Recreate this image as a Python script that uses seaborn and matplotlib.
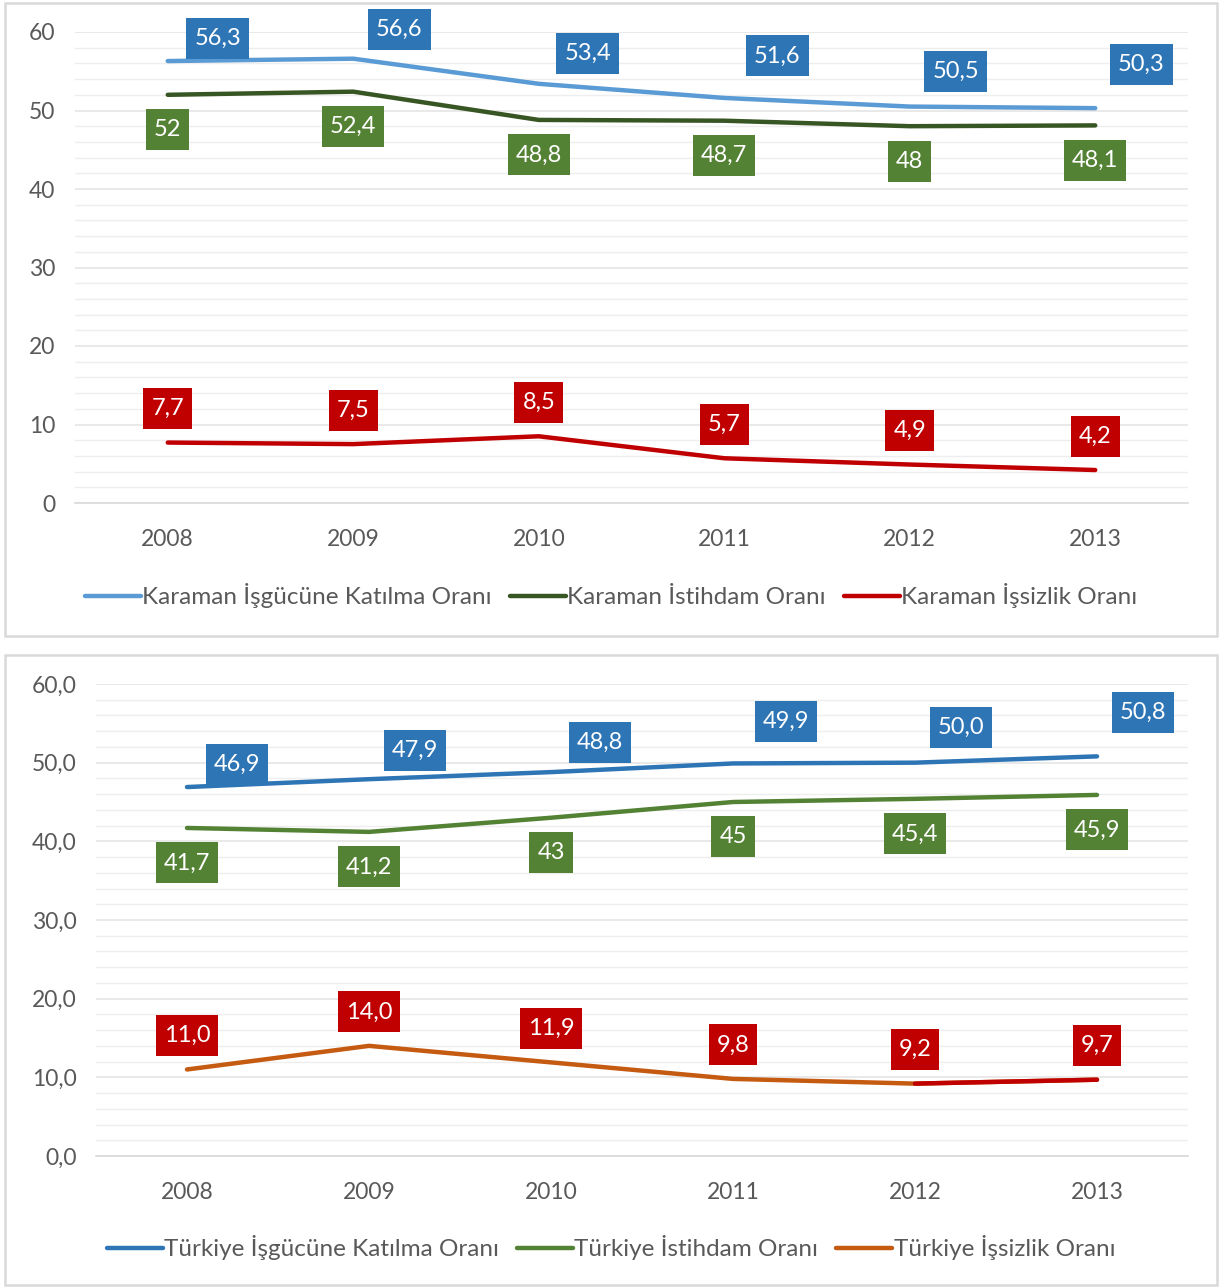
import numpy as np
import pandas as pd
import matplotlib
matplotlib.use('Agg')
import matplotlib.pyplot as plt
import seaborn as sns
from matplotlib.patches import Rectangle
from matplotlib.lines import Line2D
from matplotlib.path import Path
from matplotlib.ticker import MultipleLocator, FuncFormatter

# data
years = ["2008", "2009", "2010", "2011", "2012", "2013"]

karaman_katilma = [56.3, 56.6, 53.4, 51.6, 50.5, 50.3]
karaman_istihdam = [52, 52.4, 48.8, 48.7, 48, 48.1]
karaman_issizlik = [7.7, 7.5, 8.5, 5.7, 4.9, 4.2]

turkiye_katilma = [46.9, 47.9, 48.8, 49.9, 50.0, 50.8]
turkiye_istihdam = [41.7, 41.2, 43, 45, 45.4, 45.9]
turkiye_issizlik = [11.0, 14.0, 11.9, 9.8, 9.2, 9.7]

karaman_labels = ["Karaman İşgücüne Katılma Oranı", "Karaman İstihdam Oranı", "Karaman İşsizlik Oranı"]
turkiye_labels = ["Türkiye İşgücüne Katılma Oranı", "Türkiye İstihdam Oranı", "Türkiye İşsizlik Oranı"]

sns.set_theme(style="white")
plt.rcParams['font.family'] = ['Lato', 'DejaVu Sans']

W, H = 1229, 1288
fig = plt.figure(figsize=(W / 100, H / 100), dpi=100)

# label box offsets (pixels) per point for the upper series
blue_dx = [50, 46, 49, 53, 46, 46]
blue_dy = [23, 29, 30, 42, 35, 44]

TICK_COL = "#595959"
LABEL_FS = 17


def label_box(x0, y0, width, height, mutation_size):
    # fixed-height box like excel data labels, small side padding
    cx = x0 + width / 2
    cy = y0 + height / 2
    hw = width / 2 + 8
    hh = 20.5
    return Path([(cx - hw, cy - hh), (cx + hw, cy - hh), (cx + hw, cy + hh),
                 (cx - hw, cy + hh), (cx - hw, cy - hh)], closed=True)


def px_axes(x0, x1, ytop, ybot):
    return fig.add_axes([x0 / W, 1 - ybot / H, (x1 - x0) / W, (ybot - ytop) / H])


def fmt_num(v, decimals):
    if decimals is None:
        s = f"{v:g}"
    else:
        s = f"{v:.{decimals}f}"
    return s.replace(".", ",")


def put_label(ax, xi, v, dec, dx, dy, fc):
    ax.annotate(fmt_num(v, dec), (xi, v), xytext=(dx, dy),
                textcoords="offset pixels", ha="center", va="center",
                color="white", fontsize=LABEL_FS,
                bbox=dict(boxstyle=label_box, fc=fc, ec="none"))


def draw_panel(ax, series, colors, box_colors, labels, decimals, tick_fmt, legend_y, last_red=None):
    x = np.arange(len(years))
    for vals, col, lab in zip(series, colors, labels):
        df = pd.DataFrame({"x": x, "y": vals})
        sns.lineplot(data=df, x="x", y="y", ax=ax, color=col, linewidth=3.2,
                     solid_capstyle="round", legend=False)
    if last_red is not None:
        df = pd.DataFrame({"x": x[4:], "y": series[2][4:]})
        sns.lineplot(data=df, x="x", y="y", ax=ax, color=last_red, linewidth=3.2,
                     solid_capstyle="round", legend=False)

    # data labels
    for i in range(len(years)):
        put_label(ax, x[i], series[0][i], decimals[0], blue_dx[i], blue_dy[i], box_colors[0])
        put_label(ax, x[i], series[1][i], decimals[1], 0, -35, box_colors[1])
        put_label(ax, x[i], series[2][i], decimals[2], 0, 34, box_colors[2])

    ax.set_xlim(-0.5, len(years) - 0.5)
    ax.set_ylim(0, 60)
    ax.set_xticks(x)
    ax.set_xticklabels(years)
    ax.yaxis.set_major_locator(MultipleLocator(10))
    ax.yaxis.set_minor_locator(MultipleLocator(2))
    ax.yaxis.set_major_formatter(FuncFormatter(tick_fmt))
    ax.grid(True, which="major", axis="y", color="#e3e3e3", linewidth=1.1)
    ax.grid(True, which="minor", axis="y", color="#eeeeee", linewidth=1.0)
    ax.set_axisbelow(True)
    for s in ["top", "right", "left"]:
        ax.spines[s].set_visible(False)
    ax.spines["bottom"].set_color("#d9d9d9")
    ax.spines["bottom"].set_linewidth(1.2)
    ax.tick_params(axis="both", which="both", length=0, labelsize=16.5, colors=TICK_COL)
    ax.tick_params(axis="x", pad=19)
    ax.tick_params(axis="y", pad=14)
    ax.set_xlabel("")
    ax.set_ylabel("")

    handles = [Line2D([0], [0], color=c, linewidth=3.2) for c in colors]
    fig.legend(handles, labels, loc="center", bbox_to_anchor=(0.5 * (5 + 1217) / W, 1 - legend_y / H),
               ncol=3, frameon=False, fontsize=17.5, handlelength=2.3, handletextpad=0.05,
               columnspacing=0.75, labelcolor=TICK_COL)


ax1 = px_axes(75, 1188, 32, 503)
draw_panel(ax1, [karaman_katilma, karaman_istihdam, karaman_issizlik],
           ["#5B9BD5", "#375623", "#C00000"],
           ["#2E75B6", "#548235", "#C00000"],
           karaman_labels, [1, None, 1],
           lambda v, p: f"{v:.0f}", 596)

ax2 = px_axes(96, 1188, 684, 1156)
draw_panel(ax2, [turkiye_katilma, turkiye_istihdam, turkiye_issizlik],
           ["#2E75B6", "#548235", "#C55A11"],
           ["#2E75B6", "#548235", "#C00000"],
           turkiye_labels, [1, None, 1],
           lambda v, p: f"{v:.1f}".replace(".", ","), 1248, last_red="#C00000")

# panel borders
for (y0, y1) in [(3, 636), (655, 1285)]:
    fig.patches.append(Rectangle((5 / W, 1 - y1 / H), 1212 / W, (y1 - y0) / H,
                                 transform=fig.transFigure, fill=False,
                                 ec="#d9d9d9", lw=1.8, zorder=0))

fig.savefig("out.png", dpi=100, facecolor="white")
